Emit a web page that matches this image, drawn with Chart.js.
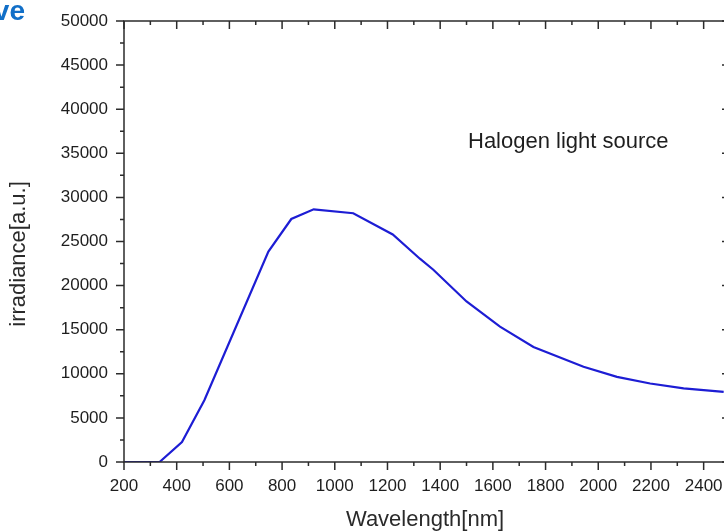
<!DOCTYPE html>
<html>
<head>
<meta charset="utf-8">
<script src="https://cdn.jsdelivr.net/npm/chart.js@4.4.1/dist/chart.umd.min.js"></script>
<style>
  html, body { margin: 0; padding: 0; background: #fff; overflow: hidden; }
  #wrap { width: 724px; height: 531px; overflow: hidden; }
</style>
</head>
<body>
<div id="wrap"><canvas id="spectrum" width="740" height="531"></canvas></div>
<script>
// spectrum of the halogen lamp
const wavelengths = [200, 335, 420, 505, 748, 835, 920, 1070, 1220, 1323, 1374, 1500, 1627, 1754, 1944, 2071, 2197, 2324, 2476];
const irradiance  = [0, 0, 2270, 7000, 23850, 27550, 28650, 28200, 25800, 23050, 21800, 18200, 15350, 13050, 10800, 9650, 8900, 8350, 7950];

// axis ranges
const xMin = 200, xMax = 2500, xStep = 200;
const yMin = 0, yMax = 50000, yStep = 5000;

const FONT = "'Liberation Sans', Arial, sans-serif";

/**
 * Frame, mirrored tick marks and the free texts
 */
const frameTicks = {
    id: 'frameTicks',
    afterDraw(chart) {
        const { ctx, chartArea: a, scales: { x, y } } = chart;
        ctx.save();
        ctx.strokeStyle = '#2b2b2b';
        ctx.lineWidth = 1.5;
        ctx.strokeRect(a.left, a.top, a.right - a.left, a.bottom - a.top);

        ctx.beginPath();
        // x ticks: outward at bottom, inward at top
        for (let v = xMin; v <= xMax; v += xStep / 2) {
            const px = x.getPixelForValue(v);
            const len = (v % xStep === 0) ? 8 : 4;
            ctx.moveTo(px, a.bottom); ctx.lineTo(px, a.bottom + len);
            ctx.moveTo(px, a.top); ctx.lineTo(px, a.top + len);
        }
        // y ticks: outward at left, inward at right
        for (let v = yMin; v <= yMax; v += yStep / 2) {
            const py = y.getPixelForValue(v);
            const len = (v % yStep === 0) ? 8 : 4;
            ctx.moveTo(a.left, py); ctx.lineTo(a.left - len, py);
            ctx.moveTo(a.right, py); ctx.lineTo(a.right - len, py);
        }
        ctx.stroke();

        // axis titles
        ctx.fillStyle = '#2a2a2a';
        ctx.font = '22px ' + FONT;
        ctx.textAlign = 'center';
        ctx.textBaseline = 'alphabetic';
        ctx.fillText('Wavelength[nm]', 425, 526);

        ctx.save();
        ctx.translate(25, 254);
        ctx.rotate(-Math.PI / 2);
        ctx.fillText('irradiance[a.u.]', 0, 0);
        ctx.restore();

        // label inside the plot
        ctx.textAlign = 'left';
        ctx.fillStyle = '#1e1e1e';
        ctx.fillText('Halogen light source', 468, 148);

        // cut-off heading at the top left
        ctx.fillStyle = '#116fc8';
        ctx.font = 'bold 28px ' + FONT;
        ctx.textAlign = 'right';
        ctx.fillText('ve', 25, 20);
        ctx.restore();
    }
};

const points = wavelengths.map((w, i) => ({ x: w, y: irradiance[i] }));

new Chart(document.getElementById('spectrum'), {
    type: 'line',
    data: {
        datasets: [{
            label: 'Halogen light source',
            data: points,
            borderColor: '#1d1dd4',
            borderWidth: 2.2,
            pointRadius: 0,
            tension: 0,
            fill: false
        }]
    },
    options: {
        responsive: false,
        animation: false,
        devicePixelRatio: 1,
        layout: { padding: { left: 0, top: 21, right: 10, bottom: 0 } },
        plugins: {
            legend: { display: false },
            tooltip: { enabled: false }
        },
        scales: {
            x: {
                type: 'linear',
                min: xMin,
                max: xMax,
                grid: { display: false, drawTicks: false },
                border: { display: false },
                ticks: {
                    stepSize: xStep,
                    includeBounds: false,
                    autoSkip: false,
                    maxRotation: 0,
                    padding: 14,
                    color: '#1e1e1e',
                    font: { family: FONT, size: 17 },
                    callback: v => String(v)
                },
                afterFit: s => {
                    s.height = 69;
                    s.paddingLeft = 0;
                    s.paddingRight = 0;
                }
            },
            y: {
                min: yMin,
                max: yMax,
                grid: { display: false, drawTicks: false },
                border: { display: false },
                ticks: {
                    stepSize: yStep,
                    autoSkip: false,
                    padding: 16,
                    color: '#1e1e1e',
                    font: { family: FONT, size: 17 },
                    callback: v => String(v)
                },
                afterFit: s => {
                    s.width = 124;
                    s.paddingTop = 0;
                    s.paddingBottom = 0;
                }
            }
        }
    },
    plugins: [frameTicks]
});
</script>
</body>
</html>
